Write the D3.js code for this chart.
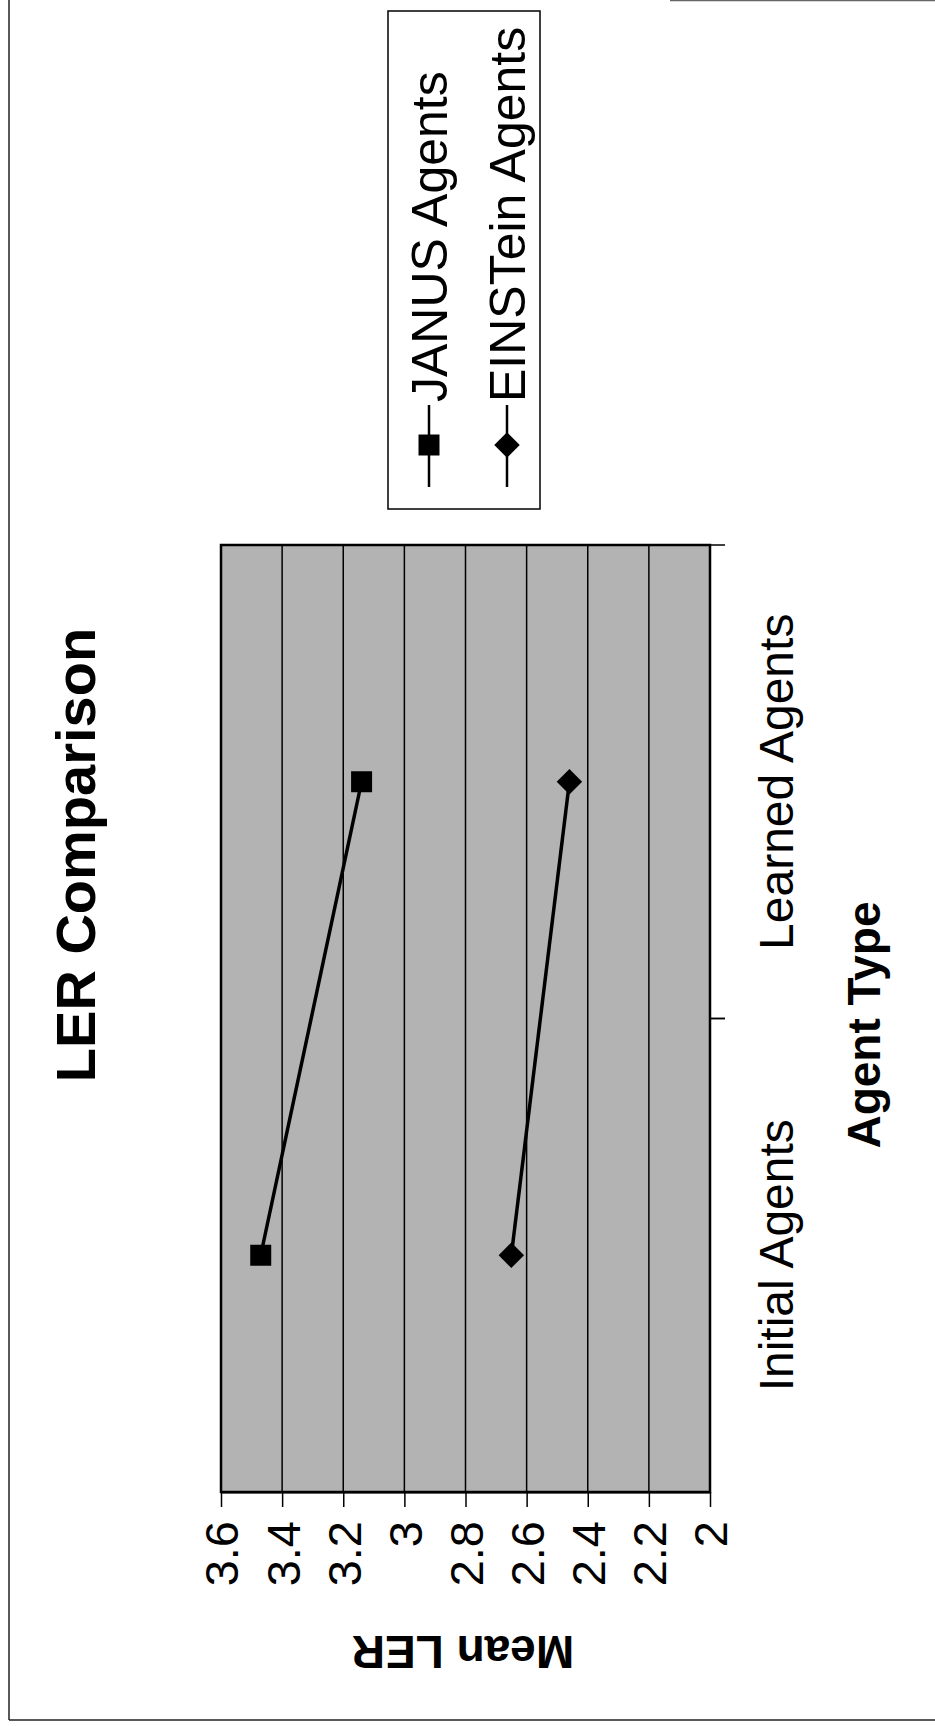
<!DOCTYPE html>
<html>
<head>
<meta charset="utf-8">
<script src="https://cdn.jsdelivr.net/npm/d3@7"></script>
<style>
  html, body { margin: 0; padding: 0; background: #fff; }
  svg { display: block; }
  text { font-family: "Liberation Sans", Arial, Helvetica, sans-serif; fill: #000; }
</style>
</head>
<body>
<svg id="chart" width="935" height="1726"></svg>
<script>
// ---- data ----
const categories = ["Initial Agents", "Learned Agents"];
const seriesNames = ["JANUS Agents", "EINSTein Agents"];
const janusValues = [3.47, 3.14];
const einsteinValues = [2.65, 2.46];
const valueTicks = [3.6, 3.4, 3.2, 3, 2.8, 2.6, 2.4, 2.2, 2];
const valueTickLabels = ["3.6", "3.4", "3.2", "3", "2.8", "2.6", "2.4", "2.2", "2"];
const titleText = "LER Comparison";
const valueAxisTitle = "Mean LER";
const categoryAxisTitle = "Agent Type";

// ---- layout (chart is printed rotated 90° counter-clockwise) ----
const svg = d3.select("#chart");
const plot = { left: 221, right: 710, top: 545, bottom: 1492 };

// value axis runs horizontally (3.6 at left, 2 at right)
const v = d3.scaleLinear().domain([2, 3.6]).range([plot.right, plot.left]);
// category axis runs vertically (Initial at bottom, Learned at top)
const c = d3.scaleBand().domain(categories).range([plot.bottom, plot.top]).paddingInner(0).paddingOuter(0);
const cMid = d => c(d) + c.bandwidth() / 2;

// page frame
svg.append("line").attr("x1", 9).attr("x2", 9).attr("y1", 0).attr("y2", 1720)
  .attr("stroke", "#222").attr("stroke-width", 1.5);
svg.append("line").attr("x1", 9).attr("x2", 935).attr("y1", 1720).attr("y2", 1720)
  .attr("stroke", "#222").attr("stroke-width", 1.5);
svg.append("line").attr("x1", 670).attr("x2", 935).attr("y1", 0.5).attr("y2", 0.5)
  .attr("stroke", "#666").attr("stroke-width", 1.5);

// plot background
svg.append("rect")
  .attr("x", plot.left).attr("y", plot.top)
  .attr("width", plot.right - plot.left).attr("height", plot.bottom - plot.top)
  .attr("fill", "#b3b3b3");

// gridlines
svg.append("g").selectAll("line")
  .data(valueTicks.filter(t => t !== 2 && t !== 3.6))
  .join("line")
  .attr("x1", d => v(d)).attr("x2", d => v(d))
  .attr("y1", plot.top).attr("y2", plot.bottom)
  .attr("stroke", "#000").attr("stroke-width", 1.5);

// plot border
svg.append("rect")
  .attr("x", plot.left).attr("y", plot.top)
  .attr("width", plot.right - plot.left).attr("height", plot.bottom - plot.top)
  .attr("fill", "none").attr("stroke", "#000").attr("stroke-width", 2.5);

// value axis (bottom of page)
const vAxis = svg.append("g")
  .attr("transform", `translate(0,${plot.bottom})`)
  .call(d3.axisBottom(v).tickValues(valueTicks)
    .tickFormat((d, i) => valueTickLabels[i]).tickSize(15).tickSizeOuter(0));
vAxis.select(".domain").attr("stroke", "#000").attr("stroke-width", 2);
vAxis.selectAll(".tick line").attr("stroke", "#000").attr("stroke-width", 1.5);
vAxis.selectAll(".tick text")
  .attr("x", 0).attr("y", 0).attr("dy", "0.36em")
  .attr("transform", "translate(0,29) rotate(-90)")
  .attr("text-anchor", "end")
  .style("font-size", "47px")
  .style("font-family", "'Liberation Sans', Arial, sans-serif")
  .attr("fill", "#000");

// category axis (right of plot)
const cAxis = svg.append("g").attr("transform", `translate(${plot.right},0)`);
cAxis.append("line").attr("x1", 0).attr("x2", 0).attr("y1", plot.top).attr("y2", plot.bottom)
  .attr("stroke", "#000").attr("stroke-width", 2);
const boundaries = categories.map(d => c(d)).concat([c(categories[1]) + c.bandwidth()]);
cAxis.selectAll("line.tk").data(boundaries).join("line").attr("class", "tk")
  .attr("x1", 0).attr("x2", 15).attr("y1", d => d).attr("y2", d => d)
  .attr("stroke", "#000").attr("stroke-width", 1.5);
cAxis.selectAll("text").data(categories).join("text")
  .attr("transform", d => `translate(83,${cMid(d)}) rotate(-90)`)
  .attr("text-anchor", "middle")
  .style("font-size", "48px")
  .text(d => d);

// series lines and markers
const series = [
  { name: seriesNames[0], values: janusValues, shape: "square" },
  { name: seriesNames[1], values: einsteinValues, shape: "diamond" }
];
const line = d3.line().x(d => v(d.value)).y(d => cMid(d.cat));
const sqSym = d3.symbol().type(d3.symbolSquare).size(21 * 21);
const diaSym = d3.symbol().type(d3.symbolSquare).size(18 * 18);

series.forEach(s => {
  const pts = s.values.map((val, i) => ({ value: val, cat: categories[i] }));
  svg.append("path").datum(pts).attr("d", line)
    .attr("fill", "none").attr("stroke", "#000").attr("stroke-width", 3.5);
  svg.append("g").selectAll("path").data(pts).join("path")
    .attr("d", s.shape === "square" ? sqSym : diaSym)
    .attr("transform", d => `translate(${v(d.value)},${cMid(d.cat)})` + (s.shape === "diamond" ? " rotate(45)" : ""))
    .attr("fill", "#000");
});

// title
svg.append("text")
  .attr("transform", `translate(95,855) rotate(-90)`)
  .attr("text-anchor", "middle")
  .style("font-size", "56px").style("font-weight", "bold")
  .text(titleText);

// value axis title (upside-down)
svg.append("text")
  .attr("transform", `translate(463,1652) rotate(180)`)
  .attr("text-anchor", "middle").attr("dy", "0.35em")
  .style("font-size", "46px").style("font-weight", "bold")
  .text(valueAxisTitle);

// category axis title
svg.append("text")
  .attr("transform", `translate(880,1025) rotate(-90)`)
  .attr("text-anchor", "middle")
  .style("font-size", "46px").style("font-weight", "bold")
  .text(categoryAxisTitle);

// legend
const legend = svg.append("g");
legend.append("rect").attr("x", 388).attr("y", 11).attr("width", 152).attr("height", 498)
  .attr("fill", "#fff").attr("stroke", "#000").attr("stroke-width", 1.5);
const legX = d3.scalePoint().domain(seriesNames).range([429, 507]);
const legItems = legend.selectAll("g.item").data(series).join("g").attr("class", "item")
  .attr("transform", d => `translate(${legX(d.name)},0)`);
legItems.append("line").attr("x1", 0).attr("x2", 0).attr("y1", 405).attr("y2", 487)
  .attr("stroke", "#000").attr("stroke-width", 2.5);
legItems.append("path")
  .attr("d", d => d.shape === "square" ? sqSym() : diaSym())
  .attr("transform", d => `translate(0,445)` + (d.shape === "diamond" ? " rotate(45)" : ""))
  .attr("fill", "#000");
legItems.append("text")
  .attr("transform", "translate(0,402) rotate(-90)")
  .attr("text-anchor", "start").attr("dy", "0.36em")
  .style("font-size", "50px")
  .text(d => d.name);
</script>
</body>
</html>
